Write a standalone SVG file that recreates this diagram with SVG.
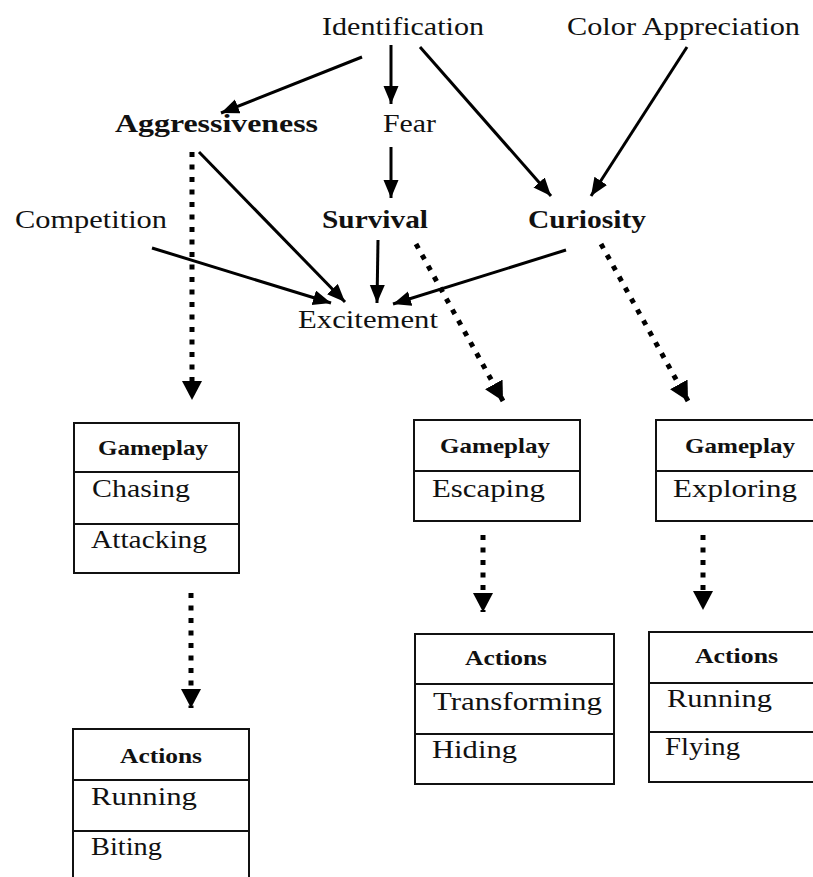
<svg xmlns="http://www.w3.org/2000/svg" width="813" height="877" viewBox="0 0 813 877">
<defs>
<style>
text{font-family:"Liberation Serif","Times New Roman",serif;fill:#111;}
.t{font-size:26px;}
.b{font-size:26px;font-weight:bold;}
.h{font-size:22px;font-weight:bold;}
.box{fill:#fff;stroke:#111;stroke-width:2;}
.div{stroke:#111;stroke-width:2;}
.s{stroke:#000;stroke-width:3;fill:none;marker-end:url(#ah);}
.d{stroke:#000;stroke-width:5;fill:none;stroke-dasharray:5 7.5;marker-end:url(#dh);}
</style>
<marker id="ah" markerUnits="userSpaceOnUse" markerWidth="19" markerHeight="16" refX="18" refY="7.5" orient="auto">
<path d="M0,0 L18,7.5 L0,15 z" fill="#000"/>
</marker>
<marker id="dh" markerUnits="userSpaceOnUse" markerWidth="20" markerHeight="22" refX="19" refY="10" orient="auto">
<path d="M0,0 L19,10 L0,20 z" fill="#000"/>
</marker>
</defs>
<rect width="813" height="877" fill="#fff"/>

<g id="connectors">
<line class="s" x1="362" y1="57" x2="221" y2="113"/>
<line class="s" x1="391" y1="45" x2="391" y2="104"/>
<line class="s" x1="420" y1="47" x2="551" y2="196"/>
<line class="s" x1="687" y1="47" x2="591" y2="196"/>
<line class="s" x1="391" y1="147" x2="391" y2="198"/>
<line class="s" x1="199" y1="152" x2="345" y2="302"/>
<line class="s" x1="152" y1="248" x2="331" y2="303"/>
<line class="s" x1="378" y1="240" x2="377" y2="303"/>
<line class="s" x1="566" y1="250" x2="393" y2="304"/>
<line class="d" x1="192" y1="152" x2="192" y2="400"/>
<line class="d" x1="416" y1="244" x2="503" y2="401"/>
<line class="d" x1="601" y1="244" x2="688" y2="401"/>
<line class="d" x1="191" y1="593" x2="191" y2="708"/>
<line class="d" x1="483" y1="535" x2="483" y2="612"/>
<line class="d" x1="703" y1="535" x2="703" y2="610"/>
</g>

<g id="identification"><text class="t" x="322" y="35" textLength="162" lengthAdjust="spacingAndGlyphs">Identification</text></g>
<g id="color-appreciation"><text class="t" x="567" y="35" textLength="233" lengthAdjust="spacingAndGlyphs">Color Appreciation</text></g>
<g id="aggressiveness"><text class="b" x="115" y="132" textLength="203" lengthAdjust="spacingAndGlyphs">Aggressiveness</text></g>
<g id="fear"><text class="t" x="383" y="132" textLength="53" lengthAdjust="spacingAndGlyphs">Fear</text></g>
<g id="competition"><text class="t" x="15" y="228" textLength="152" lengthAdjust="spacingAndGlyphs">Competition</text></g>
<g id="survival"><text class="b" x="322" y="228" textLength="106" lengthAdjust="spacingAndGlyphs">Survival</text></g>
<g id="curiosity"><text class="b" x="528" y="228" textLength="118" lengthAdjust="spacingAndGlyphs">Curiosity</text></g>
<g id="excitement"><text class="t" x="298" y="328" textLength="140" lengthAdjust="spacingAndGlyphs">Excitement</text></g>

<g id="gameplay-left">
<rect class="box" x="74" y="423" width="165" height="150"/>
<line class="div" x1="74" y1="472" x2="239" y2="472"/>
<line class="div" x1="74" y1="524" x2="239" y2="524"/>
<text class="h" x="98" y="455" textLength="110" lengthAdjust="spacingAndGlyphs">Gameplay</text>
<text class="t" x="92" y="497" textLength="98" lengthAdjust="spacingAndGlyphs">Chasing</text>
<text class="t" x="91" y="548" textLength="116" lengthAdjust="spacingAndGlyphs">Attacking</text>
</g>

<g id="gameplay-middle">
<rect class="box" x="414" y="420" width="166" height="101"/>
<line class="div" x1="414" y1="471" x2="580" y2="471"/>
<text class="h" x="440" y="453" textLength="110" lengthAdjust="spacingAndGlyphs">Gameplay</text>
<text class="t" x="432" y="497" textLength="113" lengthAdjust="spacingAndGlyphs">Escaping</text>
</g>

<g id="gameplay-right">
<rect class="box" x="656" y="420" width="170" height="101"/>
<line class="div" x1="656" y1="471" x2="826" y2="471"/>
<text class="h" x="685" y="453" textLength="110" lengthAdjust="spacingAndGlyphs">Gameplay</text>
<text class="t" x="673" y="497" textLength="124" lengthAdjust="spacingAndGlyphs">Exploring</text>
</g>

<g id="actions-middle">
<rect class="box" x="415" y="634" width="199" height="150"/>
<line class="div" x1="415" y1="684" x2="614" y2="684"/>
<line class="div" x1="415" y1="734" x2="614" y2="734"/>
<text class="h" x="465" y="665" textLength="82" lengthAdjust="spacingAndGlyphs">Actions</text>
<text class="t" x="433" y="710" textLength="169" lengthAdjust="spacingAndGlyphs">Transforming</text>
<text class="t" x="432" y="758" textLength="85" lengthAdjust="spacingAndGlyphs">Hiding</text>
</g>

<g id="actions-right">
<rect class="box" x="649" y="632" width="180" height="150"/>
<line class="div" x1="649" y1="683" x2="829" y2="683"/>
<line class="div" x1="649" y1="732" x2="829" y2="732"/>
<text class="h" x="695" y="663" textLength="83" lengthAdjust="spacingAndGlyphs">Actions</text>
<text class="t" x="667" y="707" textLength="105" lengthAdjust="spacingAndGlyphs">Running</text>
<text class="t" x="665" y="755" textLength="75" lengthAdjust="spacingAndGlyphs">Flying</text>
</g>

<g id="actions-left">
<rect class="box" x="73" y="729" width="176" height="170"/>
<line class="div" x1="73" y1="780" x2="249" y2="780"/>
<line class="div" x1="73" y1="831" x2="249" y2="831"/>
<text class="h" x="120" y="763" textLength="82" lengthAdjust="spacingAndGlyphs">Actions</text>
<text class="t" x="91" y="805" textLength="106" lengthAdjust="spacingAndGlyphs">Running</text>
<text class="t" x="91" y="855" textLength="71" lengthAdjust="spacingAndGlyphs">Biting</text>
</g>
</svg>
